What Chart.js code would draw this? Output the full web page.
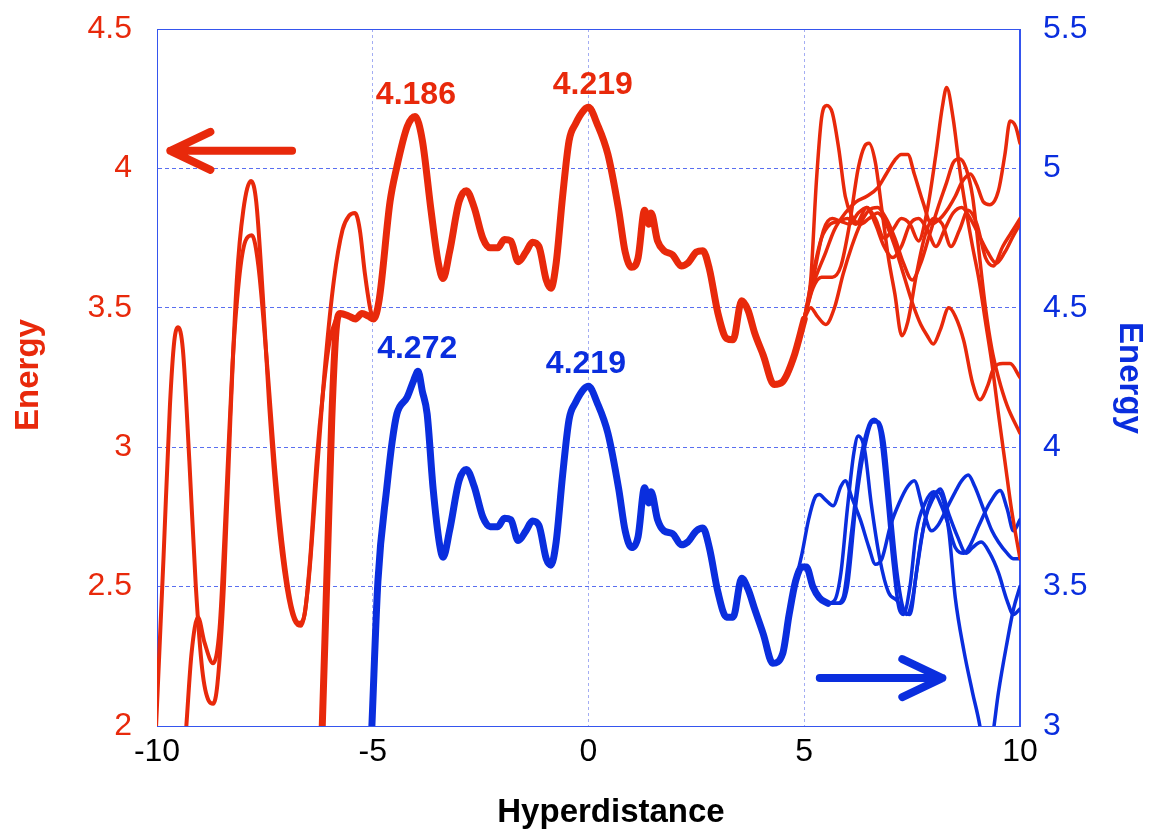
<!DOCTYPE html>
<html>
<head>
<meta charset="utf-8">
<title>Energy vs Hyperdistance</title>
<script src="https://cdn.jsdelivr.net/npm/chart.js@4.4.0/dist/chart.umd.min.js"></script>
<style>
  html, body { margin: 0; padding: 0; background: #fff; }
  #wrap { width: 1151px; height: 829px; }
</style>
</head>
<body>
<div id="wrap"><canvas id="energyChart" width="1151" height="829"></canvas></div>
<script>
// ---- data: [hyperdistance, energy] ----
// red curves (left axis)
const redTrunk = [[-6.17,2.0],[-6.05,2.6],[-5.95,3.1],[-5.85,3.42],[-5.75,3.48],[-5.55,3.47],[-5.4,3.46],[-5.25,3.48],[-5.1,3.47],[-4.98,3.46],[-4.85,3.53],[-4.6,3.88],[-4.45,4.0],[-4.2,4.15],[-4.02,4.186],[-3.85,4.1],[-3.65,3.85],[-3.48,3.66],[-3.37,3.605],[-3.22,3.7],[-3.0,3.88],[-2.83,3.92],[-2.65,3.86],[-2.45,3.75],[-2.28,3.715],[-2.1,3.715],[-1.95,3.745],[-1.8,3.74],[-1.63,3.665],[-1.45,3.7],[-1.3,3.735],[-1.15,3.72],[-0.98,3.6],[-0.87,3.57],[-0.75,3.66],[-0.6,3.9],[-0.45,4.1],[-0.3,4.16],[-0.1,4.21],[0.0,4.219],[0.2,4.16],[0.45,4.05],[0.7,3.85],[0.85,3.7],[1.0,3.645],[1.15,3.68],[1.3,3.85],[1.4,3.8],[1.45,3.84],[1.6,3.74],[1.75,3.705],[1.95,3.69],[2.15,3.65],[2.3,3.66],[2.5,3.70],[2.65,3.705],[2.8,3.64],[3.0,3.48],[3.2,3.39],[3.35,3.385],[3.55,3.525],[3.7,3.49],[3.85,3.41],[4.05,3.33],[4.3,3.225],[4.5,3.235],[4.75,3.32],[5.0,3.46]];
const redLeftA = [[-10.05,1.9],[-9.85,2.6],[-9.7,3.15],[-9.6,3.38],[-9.51,3.43],[-9.4,3.35],[-9.25,2.95],[-9.1,2.5],[-8.95,2.2],[-8.8,2.09],[-8.7,2.08],[-8.6,2.15],[-8.45,2.5],[-8.3,3.1],[-8.15,3.6],[-8.0,3.85],[-7.82,3.955],[-7.7,3.88],[-7.55,3.55],[-7.4,3.15],[-7.2,2.75],[-7.0,2.5],[-6.82,2.38],[-6.66,2.36],[-6.5,2.5],[-6.3,2.9],[-6.1,3.3],[-5.9,3.6],[-5.7,3.78],[-5.55,3.83],[-5.41,3.84],[-5.3,3.78],[-5.18,3.62],[-5.05,3.49],[-4.98,3.46]];
const redLeftB = [[-9.32,2.0],[-9.2,2.26],[-9.05,2.39],[-8.9,2.3],[-8.7,2.225],[-8.55,2.35],[-8.4,2.8],[-8.25,3.3],[-8.1,3.6],[-7.95,3.74],[-7.8,3.76],[-7.65,3.65],[-7.45,3.3],[-7.25,2.9],[-7.05,2.6],[-6.88,2.43],[-6.7,2.37],[-6.58,2.40],[-6.45,2.6],[-6.3,2.95],[-6.15,3.2],[-6.0,3.38],[-5.85,3.46],[-5.75,3.48]];
const redTailA = [[5.0,3.46],[5.15,3.6],[5.28,3.95],[5.4,4.18],[5.52,4.226],[5.65,4.2],[5.8,4.07],[5.95,3.9],[6.1,3.83],[6.3,3.8],[6.5,3.82],[6.7,3.84],[6.9,3.8],[7.1,3.72],[7.3,3.62],[7.5,3.52],[7.7,3.44],[7.85,3.4],[7.99,3.37],[8.15,3.42],[8.35,3.5],[8.5,3.47],[8.7,3.38],[8.9,3.23],[9.07,3.17],[9.25,3.22],[9.38,3.28],[9.6,3.3],[9.77,3.3],[10.0,3.25]];
const redTailB = [[5.0,3.46],[5.2,3.57],[5.4,3.61],[5.65,3.61],[5.85,3.65],[6.05,3.8],[6.25,4.0],[6.4,4.08],[6.5,4.09],[6.65,4.02],[6.8,3.85],[6.95,3.68],[7.1,3.55],[7.26,3.4],[7.4,3.45],[7.6,3.62],[7.8,3.76],[8.0,3.82],[8.2,3.8],[8.4,3.72],[8.6,3.78],[8.8,3.85],[9.0,3.8],[9.2,3.68],[9.38,3.65],[9.6,3.72],[9.8,3.77],[10.0,3.82]];
const redTailC = [[5.0,3.46],[5.2,3.58],[5.5,3.7],[5.7,3.78],[5.95,3.84],[6.2,3.88],[6.45,3.9],[6.7,3.93],[6.9,3.98],[7.1,4.03],[7.25,4.05],[7.4,4.05],[7.55,3.98],[7.75,3.88],[7.95,3.8],[8.15,3.82],[8.35,3.86],[8.5,3.9],[8.65,3.95],[8.85,3.98],[9.0,3.94],[9.15,3.88],[9.3,3.87],[9.5,3.92],[9.65,4.05],[9.77,4.17],[9.9,4.15],[10.0,4.09]];
const redTailD = [[5.0,3.46],[5.2,3.62],[5.4,3.75],[5.6,3.8],[5.8,3.81],[6.0,3.82],[6.2,3.8],[6.45,3.86],[6.65,3.82],[6.85,3.75],[7.05,3.78],[7.25,3.82],[7.45,3.8],[7.65,3.74],[7.85,3.85],[8.05,4.05],[8.2,4.22],[8.3,4.29],[8.45,4.18],[8.6,4.0],[8.75,3.85],[8.9,3.72],[9.05,3.6],[9.2,3.45],[9.35,3.3],[9.5,3.12],[9.65,2.95],[9.8,2.78],[10.0,2.6]];
const redTailE = [[5.0,3.46],[5.15,3.5],[5.3,3.47],[5.5,3.44],[5.7,3.5],[5.9,3.62],[6.1,3.72],[6.3,3.8],[6.5,3.85],[6.7,3.86],[6.9,3.82],[7.1,3.75],[7.3,3.66],[7.5,3.6],[7.7,3.66],[7.9,3.76],[8.1,3.86],[8.3,3.95],[8.45,4.02],[8.6,4.035],[8.75,4.0],[8.9,3.9],[9.05,3.7],[9.2,3.5],[9.35,3.35],[9.5,3.25],[9.7,3.15],[10.0,3.05]];
const redTailF = [[5.0,3.46],[5.2,3.6],[5.45,3.78],[5.65,3.82],[5.85,3.81],[6.05,3.8],[6.25,3.84],[6.45,3.86],[6.65,3.8],[6.85,3.72],[7.05,3.68],[7.25,3.72],[7.45,3.8],[7.65,3.82],[7.85,3.78],[8.05,3.72],[8.25,3.78],[8.45,3.84],[8.65,3.86],[8.85,3.82],[9.05,3.76],[9.25,3.7],[9.45,3.66],[9.65,3.7],[9.85,3.76],[10.0,3.8]];

// blue curves (right axis)
const blueTrunk = [[-5.02,3.0],[-4.88,3.52],[-4.67,3.86],[-4.55,4.02],[-4.44,4.12],[-4.2,4.18],[-4.05,4.24],[-3.95,4.272],[-3.85,4.2],[-3.74,4.12],[-3.6,3.85],[-3.45,3.65],[-3.37,3.605],[-3.22,3.7],[-3.0,3.88],[-2.83,3.92],[-2.65,3.86],[-2.45,3.75],[-2.28,3.715],[-2.1,3.715],[-1.95,3.745],[-1.8,3.74],[-1.63,3.665],[-1.45,3.7],[-1.3,3.735],[-1.15,3.72],[-0.98,3.6],[-0.87,3.577],[-0.75,3.66],[-0.6,3.9],[-0.45,4.1],[-0.3,4.16],[-0.1,4.21],[0.0,4.219],[0.2,4.16],[0.45,4.05],[0.7,3.85],[0.85,3.7],[1.0,3.64],[1.15,3.68],[1.3,3.855],[1.4,3.8],[1.45,3.84],[1.6,3.74],[1.75,3.7],[1.95,3.69],[2.15,3.65],[2.3,3.66],[2.5,3.7],[2.65,3.71],[2.8,3.64],[3.0,3.48],[3.2,3.39],[3.35,3.39],[3.55,3.53],[3.7,3.49],[3.85,3.42],[4.05,3.33],[4.27,3.225],[4.5,3.26],[4.65,3.4],[4.8,3.52],[4.95,3.57],[5.05,3.57],[5.2,3.5],[5.35,3.46],[5.55,3.44]];
const blueTailA = [[4.8,3.52],[4.95,3.62],[5.1,3.74],[5.25,3.82],[5.35,3.83],[5.5,3.81],[5.67,3.79],[5.85,3.86],[5.95,3.88],[6.1,3.82],[6.3,3.74],[6.5,3.64],[6.65,3.58],[6.8,3.6],[7.0,3.72],[7.2,3.8],[7.4,3.86],[7.55,3.88],[7.75,3.78],[7.95,3.7],[8.1,3.72],[8.3,3.78],[8.5,3.84],[8.65,3.88],[8.8,3.9],[8.95,3.86],[9.15,3.78],[9.35,3.7],[9.5,3.66],[9.7,3.62],[9.85,3.6],[10.0,3.6]];
const blueTailB = [[5.55,3.44],[5.7,3.45],[5.85,3.55],[6.0,3.78],[6.15,3.98],[6.25,4.04],[6.4,3.99],[6.55,3.8],[6.75,3.6],[6.95,3.48],[7.15,3.45],[7.37,3.4],[7.5,3.45],[7.7,3.66],[7.9,3.8],[8.07,3.84],[8.2,3.82],[8.35,3.7],[8.5,3.46],[8.7,3.27],[8.9,3.12],[9.07,3.0],[9.2,2.86],[9.35,2.95],[9.5,3.12],[9.7,3.3],[9.85,3.42],[10.0,3.5]];
const blueTailC = [[5.55,3.44],[5.75,3.44],[5.9,3.46],[6.1,3.7],[6.3,3.95],[6.5,4.08],[6.62,4.1],[6.75,4.06],[6.9,3.85],[7.05,3.6],[7.2,3.42],[7.3,3.4],[7.45,3.5],[7.6,3.7],[7.8,3.8],[8.0,3.84],[8.15,3.8],[8.3,3.74],[8.5,3.64],[8.7,3.62],[8.85,3.65],[9.05,3.72],[9.3,3.8],[9.54,3.845],[9.7,3.78],[9.85,3.7],[10.0,3.74]];
const blueTailD = [[5.55,3.44],[5.8,3.44],[6.0,3.5],[6.2,3.8],[6.4,4.0],[6.6,4.09],[6.72,4.09],[6.85,4.02],[7.0,3.78],[7.15,3.55],[7.3,3.42],[7.45,3.4],[7.6,3.55],[7.8,3.74],[8.0,3.82],[8.15,3.85],[8.35,3.76],[8.55,3.68],[8.75,3.62],[8.9,3.64],[9.1,3.66],[9.3,3.62],[9.5,3.55],[9.7,3.45],[9.85,3.4],[10.0,3.42]];

// peak labels [x, energy, text] and arrows [tail, tip]
const redPeaks = [[-4.0, 4.186, '4.186'], [0.1, 4.219, '4.219']];
const bluePeaks = [[-3.97, 4.272, '4.272'], [-0.06, 4.219, '4.219']];
const redArrow = [[-6.87, 4.063], [-9.69, 4.063]];
const blueArrow = [[5.36, 3.172], [8.2, 3.172]];

const RED = '#e8290b';
const BLUE = '#0a2ede';
const FRAME = '#3555ee';
const FONT = '"Liberation Sans", Arial, Helvetica, sans-serif';

function series(points, axis, color, width) {
  return {
    data: points.map(p => ({ x: p[0], y: p[1] })),
    yAxisID: axis,
    borderColor: color,
    borderWidth: width,
    pointRadius: 0,
    fill: false,
    cubicInterpolationMode: 'monotone',
    borderCapStyle: 'round',
    borderJoinStyle: 'round'
  };
}

const datasets = [
  series(redTrunk, 'yL', RED, 7),
  series(redLeftA, 'yL', RED, 4),
  series(redLeftB, 'yL', RED, 4),
  series(redTailA, 'yL', RED, 3.5),
  series(redTailB, 'yL', RED, 3.5),
  series(redTailC, 'yL', RED, 3.5),
  series(redTailD, 'yL', RED, 3.5),
  series(redTailE, 'yL', RED, 3.5),
  series(redTailF, 'yL', RED, 3.5),
  series(blueTrunk, 'yR', BLUE, 7),
  series(blueTailA, 'yR', BLUE, 3.5),
  series(blueTailB, 'yR', BLUE, 3.5),
  series(blueTailC, 'yR', BLUE, 3.5),
  series(blueTailD, 'yR', BLUE, 3.5)
];

function drawArrow(ctx, x1, y1, x2, y2, color) {
  const dir = Math.sign(x2 - x1);
  ctx.save();
  ctx.strokeStyle = color;
  ctx.lineWidth = 8;
  ctx.lineCap = 'round';
  ctx.lineJoin = 'round';
  ctx.beginPath();
  ctx.moveTo(x1, y1);
  ctx.lineTo(x2, y2);
  ctx.moveTo(x2 - dir * 40, y2 - 19);
  ctx.lineTo(x2, y2);
  ctx.lineTo(x2 - dir * 40, y2 + 19);
  ctx.stroke();
  ctx.restore();
}

const decor = {
  id: 'decor',
  beforeDatasetsDraw(chart) {
    const { ctx, chartArea: a } = chart;
    ctx.save();
    ctx.strokeStyle = FRAME;
    ctx.lineWidth = 1;
    ctx.strokeRect(a.left + 0.5, a.top + 0.5, a.right - a.left - 1, a.bottom - a.top);
    ctx.restore();
  },
  afterDatasetsDraw(chart) {
    const { ctx } = chart;
    const sx = chart.scales.x, yl = chart.scales.yL, yr = chart.scales.yR;
    ctx.save();
    ctx.font = 'bold 32px ' + FONT;
    ctx.textAlign = 'center';
    ctx.textBaseline = 'alphabetic';
    ctx.fillStyle = RED;
    redPeaks.forEach(p => ctx.fillText(p[2], sx.getPixelForValue(p[0]), yl.getPixelForValue(p[1]) - 13));
    ctx.fillStyle = BLUE;
    bluePeaks.forEach(p => ctx.fillText(p[2], sx.getPixelForValue(p[0]), yr.getPixelForValue(p[1]) - 13));
    ctx.restore();

    drawArrow(ctx, sx.getPixelForValue(redArrow[0][0]), yl.getPixelForValue(redArrow[0][1]),
      sx.getPixelForValue(redArrow[1][0]), yl.getPixelForValue(redArrow[1][1]), RED);
    drawArrow(ctx, sx.getPixelForValue(blueArrow[0][0]), yr.getPixelForValue(blueArrow[0][1]),
      sx.getPixelForValue(blueArrow[1][0]), yr.getPixelForValue(blueArrow[1][1]), BLUE);
  },
  afterDraw(chart) {
    const { ctx } = chart;
    ctx.save();
    ctx.font = 'bold 33px ' + FONT;
    ctx.textAlign = 'center';
    ctx.textBaseline = 'alphabetic';
    ctx.fillStyle = '#000';
    ctx.fillText('Hyperdistance', 611, 822);

    ctx.fillStyle = RED;
    ctx.save();
    ctx.translate(38, 375);
    ctx.rotate(-Math.PI / 2);
    ctx.fillText('Energy', 0, 0);
    ctx.restore();

    ctx.fillStyle = BLUE;
    ctx.save();
    ctx.translate(1120, 378);
    ctx.rotate(Math.PI / 2);
    ctx.fillText('Energy', 0, 0);
    ctx.restore();
    ctx.restore();
  }
};

const tickText = v => String(v);

// fixed axis sizes so the plot box sits where it does in the original
function fitVertical(width) {
  return s => {
    s.width = width;
    s.paddingTop = 8;
    s.paddingBottom = 8;
  };
}

new Chart(document.getElementById('energyChart'), {
  type: 'line',
  data: { datasets },
  plugins: [decor],
  options: {
    responsive: false,
    animation: false,
    layout: { padding: { top: 29, left: 0, right: 0, bottom: 0 } },
    plugins: { legend: { display: false }, tooltip: { enabled: false } },
    scales: {
      x: {
        type: 'linear',
        position: 'bottom',
        min: -10, max: 10,
        ticks: { stepSize: 5, color: '#000', font: { size: 32, family: FONT }, padding: 7, maxRotation: 0, callback: tickText },
        grid: { color: '#a3adf3', lineWidth: 1, drawTicks: false },
        border: { color: FRAME, width: 1, dash: [3, 3] },
        afterFit(s) { s.height = 103; }
      },
      yL: {
        position: 'left',
        min: 2, max: 4.5,
        ticks: { stepSize: 0.5, color: RED, font: { size: 32, family: FONT }, padding: 25, callback: tickText },
        grid: { color: '#5a6ff0', lineWidth: 1, drawTicks: false },
        border: { color: FRAME, width: 1, dash: [4, 3] },
        afterFit: fitVertical(157)
      },
      yR: {
        position: 'right',
        min: 3, max: 5.5,
        ticks: { stepSize: 0.5, color: BLUE, font: { size: 32, family: FONT }, padding: 23, callback: tickText },
        grid: { display: false, drawTicks: false },
        border: { color: FRAME, width: 1 },
        afterFit: fitVertical(131)
      }
    }
  }
});
</script>
</body>
</html>
